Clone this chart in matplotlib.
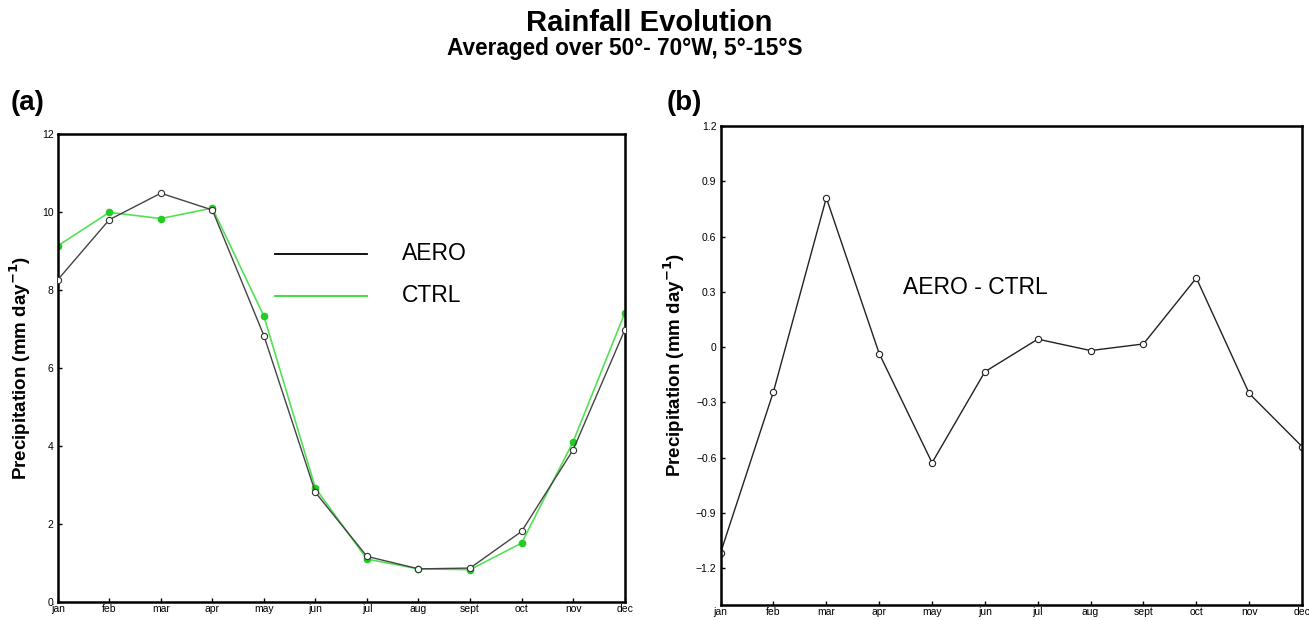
#——————————————————————Rainfall Evolution———————————————————————#

import matplotlib.pyplot as plt
import numpy as np

#——————————————————————————数据———————————————————————————#

months = ["jan", "feb", "mar", "apr", "may", "jun",
          "jul", "aug", "sept", "oct", "nov", "dec"]
aero = [8.26, 9.80, 10.48, 10.05, 6.83, 2.81, 1.17, 0.85, 0.87, 1.81, 3.90, 6.97]
ctrl = [9.13, 9.99, 9.83, 10.10, 7.33, 2.92, 1.10, 0.85, 0.83, 1.51, 4.11, 7.40]
diff = [-1.116, -0.242, 0.81, -0.035, -0.628, -0.134,
        0.043, -0.019, 0.017, 0.375, -0.252, -0.54]
yticks_a = [0, 2, 4, 6, 8, 10, 12]
yticks_b = [-1.2, -0.9, -0.6, -0.3, 0, 0.3, 0.6, 0.9, 1.2]

#——————————————————————————制图———————————————————————————#

plt.rcParams['font.family'] = ['Liberation Sans', 'DejaVu Sans']
x = np.arange(len(months))

fig = plt.figure(figsize=(13.09, 6.2), dpi=100)
ax1 = fig.add_axes([0.0441, 0.029, 0.4331, 0.755])
ax2 = fig.add_axes([0.5505, 0.0242, 0.4442, 0.7726])

fig.text(0.496, 0.963, "Rainfall Evolution", ha="center", va="center",
         fontsize=21, fontweight="bold")
fig.text(0.477, 0.921, "Averaged over 50\u00b0- 70\u00b0W, 5\u00b0-15\u00b0S",
         ha="center", va="center", fontsize=16.3, fontweight="bold")
fig.text(0.008, 0.834, "(a)", ha="left", va="center", fontsize=20, fontweight="bold")
fig.text(0.509, 0.834, "(b)", ha="left", va="center", fontsize=20, fontweight="bold")

# (a) AERO / CTRL
ax1.plot(x, aero, color="#444444", lw=1.0, marker="o", ms=4.5,
         mfc="white", mec="#333333", mew=0.8, zorder=3)
ax1.plot(x, ctrl, color="#55e055", lw=1.2, marker="o", ms=4.5,
         mfc="#22cc22", mec="#22cc22", zorder=2)
ax1.set_ylim(0, 12)
ax1.set_yticks(yticks_a)
ax1.plot([0.383, 0.545], [0.744, 0.744], color="black", lw=1.3,
         transform=ax1.transAxes)
ax1.plot([0.383, 0.545], [0.654, 0.654], color="#33dd33", lw=1.3,
         transform=ax1.transAxes)
ax1.text(0.607, 0.744, "AERO", transform=ax1.transAxes, va="center", fontsize=16.5)
ax1.text(0.607, 0.654, "CTRL", transform=ax1.transAxes, va="center", fontsize=16.5)

# (b) AERO - CTRL
ax2.plot(x, diff, color="#222222", lw=1.0, marker="o", ms=4.5,
         mfc="white", mec="#222222", mew=0.8)
ax2.set_ylim(-1.4, 1.2)
ax2.set_yticks(yticks_b)
ax2.set_yticklabels([("%g" % v).replace("-", "\u2212") if v != 0 else "0"
                     for v in yticks_b])
ax2.text(0.314, 0.662, "AERO - CTRL", transform=ax2.transAxes, va="center",
         fontsize=16.5)

for ax in (ax1, ax2):
    ax.set_xlim(0, 11)
    ax.set_xticks(x)
    ax.set_xticklabels(months)
    ax.tick_params(direction="in", length=3, width=1, labelsize=7.5, pad=1.5)
    ax.tick_params(axis="y", pad=3)
    for s in ax.spines.values():
        s.set_linewidth(1.8)
    ax.set_ylabel("Precipitation (mm day$^{\\mathbf{-1}}$)", fontsize=13.5,
                  fontweight="bold", labelpad=6)

fig.savefig("out.png", dpi=100)
